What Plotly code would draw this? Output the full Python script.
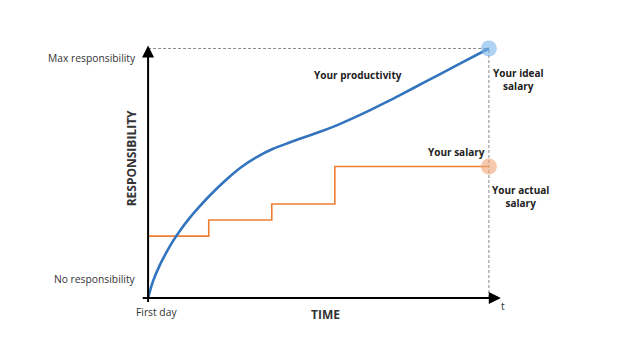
import plotly.graph_objects as go

# Data (arbitrary units: time 0..10, responsibility 0..10)
prod_x = [0, 0.14, 0.33, 0.53, 0.72, 0.92, 1.21, 1.50, 1.79, 2.26, 2.73, 3.20, 3.67, 4.13, 4.49,
          4.98, 5.46, 5.95, 6.44, 6.93, 7.42, 8.10, 9.08, 10]
prod_y = [0, 0.66, 1.28, 1.81, 2.26, 2.67, 3.19, 3.65, 4.08, 4.70, 5.24, 5.66, 5.98, 6.22, 6.40,
          6.63, 6.88, 7.17, 7.48, 7.81, 8.15, 8.64, 9.34, 10]
salary_x = [0, 1.78, 3.63, 5.48, 10]
salary_y = [2.48, 3.13, 3.77, 5.27, 5.27]
y_tick_vals = [10, 0]
y_tick_text = ["Max responsibility", "No responsibility"]

BLUE = "#3274BE"
ORANGE = "#ED7D31"
TXT = "#333333"
FONT = "Open Sans"

fig = go.Figure()

# dashed guides
fig.add_trace(go.Scatter(x=[0, 10], y=[10, 10], mode="lines",
                         line=dict(color="#888888", width=1, dash="3px,2px"), hoverinfo="skip"))
fig.add_trace(go.Scatter(x=[10, 10], y=[0, 10], mode="lines",
                         line=dict(color="#888888", width=1, dash="3px,2px"), hoverinfo="skip"))

# salary step line
fig.add_trace(go.Scatter(x=salary_x, y=salary_y, mode="lines", line_shape="hv",
                         line=dict(color=ORANGE, width=1.6), hoverinfo="skip"))
# productivity curve
fig.add_trace(go.Scatter(x=prod_x, y=prod_y, mode="lines", line_shape="spline",
                         line=dict(color=BLUE, width=2.6, smoothing=0.7), hoverinfo="skip"))

# end circles
fig.add_trace(go.Scatter(x=[prod_x[-1]], y=[prod_y[-1]], mode="markers",
                         marker=dict(size=16, color="rgba(120,180,235,0.6)"), hoverinfo="skip"))
fig.add_trace(go.Scatter(x=[salary_x[-1]], y=[salary_y[-1]], mode="markers",
                         marker=dict(size=16, color="rgba(240,165,120,0.6)"), hoverinfo="skip"))

ann = []
# axes arrows
ann.append(dict(x=0, y=10.12, ax=0, ay=-0.22, xref="x", yref="y", axref="x", ayref="y",
                text="", showarrow=True, arrowhead=2, arrowsize=1.2, arrowwidth=2, arrowcolor="black"))
ann.append(dict(x=10.35, y=0, ax=-0.2, ay=0, xref="x", yref="y", axref="x", ayref="y",
                text="", showarrow=True, arrowhead=2, arrowsize=1.2, arrowwidth=2, arrowcolor="black"))

# y tick labels
for v, t in zip(y_tick_vals, y_tick_text):
    ann.append(dict(x=-0.3, y=v + (-0.4 if v == 10 else 0.75), xref="x", yref="y", text=t,
                    showarrow=False, xanchor="right", yanchor="middle",
                    font=dict(family=FONT, size=10.3, color=TXT)))
ann.append(dict(x=0.25, y=-0.55, xref="x", yref="y", text="First day", showarrow=False,
                xanchor="center", yanchor="middle", font=dict(family=FONT, size=10.3, color=TXT)))
ann.append(dict(x=10.4, y=-0.3, xref="x", yref="y", text="t", showarrow=False,
                xanchor="center", yanchor="middle", font=dict(family=FONT, size=10.3, color=TXT)))
ann.append(dict(x=5.22, y=-0.64, xref="x", yref="y", text="<b>TIME</b>", showarrow=False,
                xanchor="center", yanchor="middle", font=dict(family=FONT, size=12, color=TXT)))
ann.append(dict(x=-0.5, y=5.6, xref="x", yref="y", text="<b>RESPONSIBILITY</b>", showarrow=False,
                textangle=-90, xanchor="center", yanchor="middle", font=dict(family=FONT, size=12, color=TXT)))

# series labels
ann.append(dict(x=6.16, y=8.92, xref="x", yref="y", text="<b>Your productivity</b>", showarrow=False,
                xanchor="center", yanchor="middle", font=dict(family=FONT, size=10, color="#222222")))
ann.append(dict(x=9.06, y=5.84, xref="x", yref="y", text="<b>Your salary</b>", showarrow=False,
                xanchor="center", yanchor="middle", font=dict(family=FONT, size=10, color="#222222")))
ann.append(dict(x=10.88, y=8.74, xref="x", yref="y", text="<b>Your ideal<br>salary</b>", showarrow=False,
                xanchor="center", yanchor="middle", font=dict(family=FONT, size=10, color="#222222")))
ann.append(dict(x=10.94, y=4.08, xref="x", yref="y", text="<b>Your actual<br>salary</b>", showarrow=False,
                xanchor="center", yanchor="middle", font=dict(family=FONT, size=10, color="#222222")))

# pixel mapping: x 0->147px, 10->488px; y 0->297px, 10->47px (page has ~7px body offset)
OFF = 7
xr = [-1.0, 11.5]
yr = [-1.0, 10.5]
pxu = 34.1
pyu = 25.0
ml = 147 - (0 - xr[0]) * pxu - OFF
mr = 635 - (488 + (xr[1] - 10) * pxu) + OFF
mt = 47 - (yr[1] - 10) * pyu - OFF
mb = 357 - (297 + (0 - yr[0]) * pyu) + OFF

fig.update_layout(
    width=635, height=357,
    margin=dict(l=ml, r=mr, t=mt, b=mb, pad=0),
    paper_bgcolor="white", plot_bgcolor="white",
    showlegend=False,
    xaxis=dict(range=xr, visible=False, fixedrange=True),
    yaxis=dict(range=yr, visible=False, fixedrange=True),
    annotations=ann,
)

fig.write_html("out.html")
